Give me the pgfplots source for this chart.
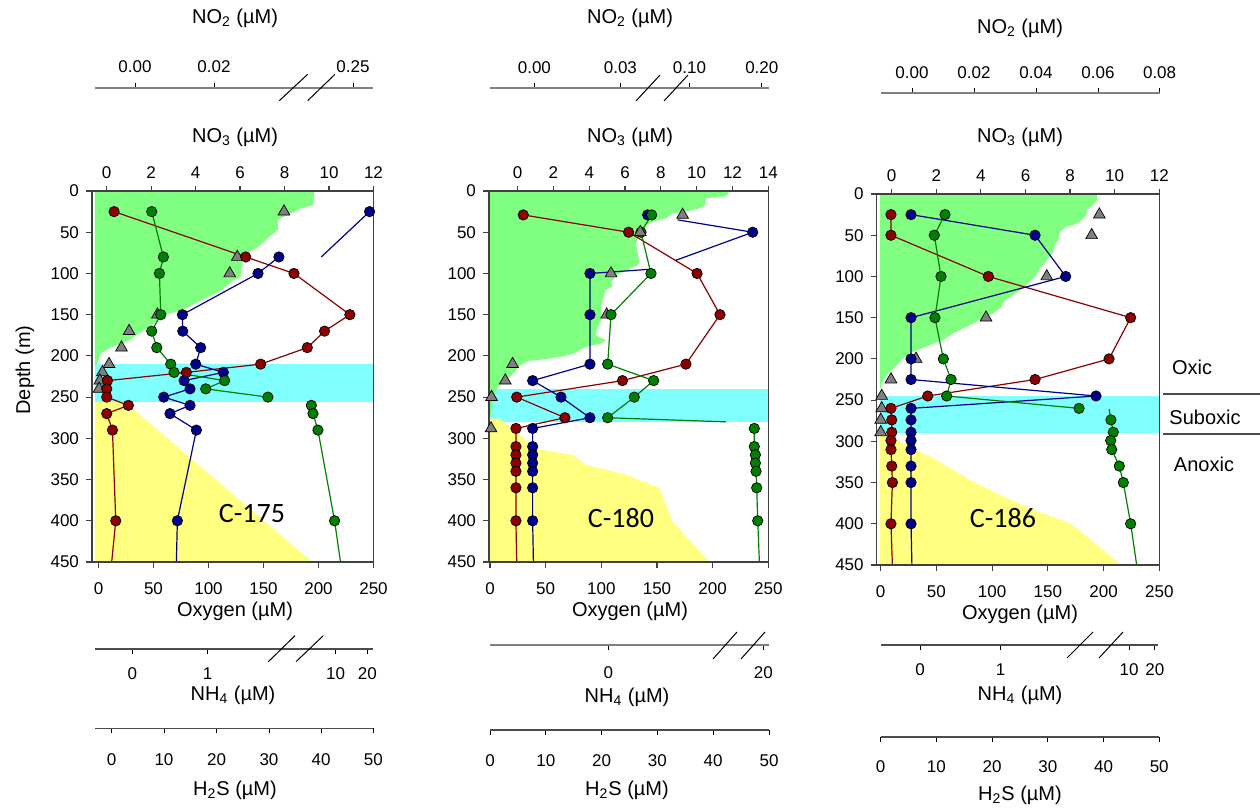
\documentclass[border=0pt]{standalone}
\usepackage{fontspec}
\setmainfont{Liberation Sans}
\newfontfamily\calib{Carlito}
\usepackage{pgfplots}
\pgfplotsset{compat=1.18}
\definecolor{dred}{HTML}{8B0000}
\definecolor{dblue}{HTML}{00008B}
\definecolor{dgreen}{HTML}{008000}
\definecolor{tgray}{HTML}{808080}
\definecolor{gfill}{HTML}{80FF80}
\definecolor{cfill}{HTML}{80FFFF}
\definecolor{yfill}{HTML}{FFFF80}
\newcommand{\tk}{\fontsize{8.5}{10}\selectfont}
\newcommand{\ttl}{\fontsize{10}{12}\selectfont}
\pgfplotsset{
  every axis/.append style={/pgf/number format/assume math mode=true,/pgf/number format/1000 sep={},tick label style={font=\tk}},
  main/.style={anchor=south west, scale only axis, ymin=0, ymax=450, y dir=reverse,
    xtick={0,50,...,250}, ytick={0,50,...,450}, xtick pos=left, ytick pos=left,
    tick align=outside, major tick length=3pt, axis on top,
    axis line style={-,black!75,line width=0.7pt}, major tick style={black!75,line width=0.6pt},
    xticklabel style={yshift=-4pt}},
  topn/.style={anchor=south west, scale only axis, ymin=0, ymax=1, axis y line=none, axis x line=top,
    tick align=outside, major tick length=2.5pt, xtick={0,2,...,14},
    axis line style={-,black!75,line width=0.7pt}, major tick style={black!75,line width=0.6pt}},
  decot/.style={anchor=south west, scale only axis, axis y line=none, axis x line=top, clip=false,
    tick align=outside, major tick length=2.5pt, axis line style={-,tgray,line width=1pt},
    major tick style={black,line width=0.5pt}, xticklabel style={yshift=1.3pt}},
  decob/.style={anchor=south west, scale only axis, axis y line=none, axis x line=bottom, clip=false,
    tick align=outside, major tick length=2.5pt, axis line style={-,black!70,line width=0.8pt},
    major tick style={black,line width=0.5pt}, xticklabel style={yshift=-3.5pt}},
  rs/.style={color=dred, line width=0.6pt, mark=*, mark size=2.6pt, mark options={fill=dred,draw=black,line width=0.35pt,solid}},
  bs/.style={color=dblue, line width=0.6pt, mark=*, mark size=2.6pt, mark options={fill=dblue,draw=black,line width=0.35pt,solid}},
  gs/.style={color=dgreen, line width=0.6pt, mark=*, mark size=2.6pt, mark options={fill=dgreen,draw=black,line width=0.35pt,solid}},
  rl/.style={color=dred, line width=0.6pt, no marks},
  bl/.style={color=dblue, line width=0.6pt, no marks},
  gl/.style={color=dgreen, line width=0.6pt, no marks},
  tri/.style={only marks, mark=triangle*, mark size=3.4pt, mark options={fill=tgray,draw=black,line width=0.35pt}},
}
\begin{document}
\begin{tikzpicture}
\path[use as bounding box] (0,0) rectangle (630pt,405pt);

% ================= Panel 1 =================
\begin{axis}[main, at={(46pt,124pt)}, width=140.75pt, height=185.5pt, xmin=-5.9, xmax=250]
\addplot[fill=cfill, draw=none] coordinates {(-3.2,210) (250,210) (250,256) (-3.2,256)} -- cycle;
\addplot[fill=gfill, draw=none] coordinates {(-3.2,0) (196,0) (195.3,17) (184,21) (163,35) (163,47) (150,62) (145,68) (136.5,74) (129,80) (131,88) (129,105) (123,108) (111,121) (93,133) (75,145) (63,149) (54,157) (41,169) (27,182) (11,190) (2,197) (0,206) (-2,212) (-3.2,212)} -- cycle;
\addplot[fill=yfill, draw=none] coordinates {(-3.2,256) (24,256) (194.4,450) (-3.2,450)} -- cycle;
\addplot[tri] coordinates {(168.6,25) (126.2,80) (119.3,100) (53.6,150) (27.8,170) (20.9,190) (9.6,210) (3.6,220) (1.2,230) (0.5,240)};
\addplot[rl] coordinates {(15.7,400) (12,450)};
\addplot[rs] coordinates {(14.2,25) (133.8,80) (177.7,100) (228.5,150) (205.5,170) (189.8,190) (147.4,210) (79.9,220) (8.2,230) (7.5,240) (7.5,250) (27.2,260) (7.5,270) (12.7,290) (15.7,400)};
\addplot[bl] coordinates {(246.4,25) (202.5,80)};
\addplot[bs, only marks] coordinates {(246.4,25)};
\addplot[bl] coordinates {(71.7,400) (70.8,450)};
\addplot[bs] coordinates {(164,80) (145,100) (76.3,150) (76.6,170) (92.9,190) (88.4,210) (113.5,220) (77.8,230) (83.2,240) (59.3,250) (83.2,260) (65,270) (89,290) (71.7,400)};
\addplot[gs] coordinates {(48.4,25) (59,80) (55.4,100) (56.6,150) (48.4,170) (53,190) (65.7,210) (68.7,220) (114.7,230) (97.5,240) (154,250)};
\addplot[gl] coordinates {(214.6,400) (220,450)};
\addplot[gs] coordinates {(193.5,260) (195,270) (199.5,290) (214.6,400)};
\end{axis}
\begin{axis}[topn, at={(46pt,124pt)}, width=140.75pt, height=185.5pt, xmin=-0.66, xmax=12]
\end{axis}
\begin{axis}[decot, at={(47.5pt,354.5pt)}, width=139pt, height=6.65pt, xmin=95, xmax=373, ymin=709, ymax=722.3,
  xtick={135,214,353}, xticklabels={0.00,0.02,0.25}]
\draw[black, line width=0.5pt] (axis cs:279.3,709.3) -- (axis cs:307.7,735.7);
\draw[black, line width=0.5pt] (axis cs:307.7,709.3) -- (axis cs:335,735.7);
\end{axis}
\begin{axis}[decob, at={(47.5pt,80.5pt)}, width=139pt, height=5pt, xmin=95, xmax=373, ymin=161, ymax=171,
  xtick={132.3,207.7,335.7,367.3}, xticklabels={0,1,10,20}]
\draw[black, line width=0.5pt] (axis cs:268.3,148.3) -- (axis cs:295,174.3);
\draw[black, line width=0.5pt] (axis cs:296,148.3) -- (axis cs:323.3,174.3);
\end{axis}
\begin{axis}[decob, at={(47.5pt,40.85pt)}, width=139.15pt, height=5pt, xmin=95, xmax=373.3, ymin=81.7, ymax=91.7,
  xtick={111.7,164,216.7,269,321,373.3}, xticklabels={0,10,20,30,40,50}, xticklabel style={yshift=-3pt}]
\end{axis}

% ================= Panel 2 =================
\begin{axis}[main, at={(244.5pt,124pt)}, width=139.65pt, height=185.5pt, xmin=-0.9, xmax=250]
\addplot[fill=cfill, draw=none] coordinates {(-0.3,240.5) (250,240.5) (250,280) (-0.3,280)} -- cycle;
\addplot[fill=gfill, draw=none] coordinates {(-0.3,0) (215,0) (213.4,4.6) (210.5,6.7) (194,8.7) (193.4,17) (188,21) (176,25) (164,27) (158,33) (152,35) (143,39) (135.6,45) (134,52) (131,64) (132.6,74) (134,86) (132.6,90) (128,93) (123.6,96) (116,100) (113,104) (108.7,110) (110,116) (104,120) (102.7,126) (101,133) (99.7,143) (99.7,157) (96.7,165) (95,175) (104,181) (99.7,185) (86,189) (77,196) (68,200) (50,204) (35,206) (26,212) (22,220) (17,226) (11,232) (7,238) (4,246) (2.4,259) (1,271) (0,277) (-0.3,277)} -- cycle;
\addplot[fill=yfill, draw=none] coordinates {(-0.3,276) (8.4,276) (26,295) (38,312) (74,320) (86,332) (122,344) (152,360) (164,401) (197,450) (-0.3,450)} -- cycle;
\addplot[tri] coordinates {(173,29) (108.7,100) (104.8,150) (20.3,210) (13.7,230) (1.4,250) (0.9,288)};
\addplot[rl] coordinates {(23.3,400) (24,450)};
\addplot[rs] coordinates {(29.9,29) (124.5,50) (186,100) (206.6,150) (176,210) (119,230) (24,250) (67.3,275) (23.3,288) (23.3,310) (23.3,320) (23.3,330) (23.3,340) (23.3,360) (23.3,400)};
\addplot[bl] coordinates {(168.5,35) (236,50) (167,84)};
\addplot[bs, only marks] coordinates {(236,50) (141.6,29)};
\addplot[bl] coordinates {(143,95) (89.8,100)};
\addplot[bl] coordinates {(38.3,400) (39,450)};
\addplot[bs] coordinates {(89.8,100) (89.8,150) (89.8,210) (38.3,230) (63.8,250) (89.8,275) (38.3,288) (38.3,310) (38.3,320) (38.3,330) (38.3,340) (38.3,360) (38.3,400)};
\addplot[gl] coordinates {(105.7,275) (212,280)};
\addplot[gs] coordinates {(145.2,29) (135.6,50) (144.6,100) (108.7,150) (105.7,210) (147,230) (129.6,250) (105.7,275)};
\addplot[gl] coordinates {(240.5,400) (242,450)};
\addplot[gs] coordinates {(237.4,288) (237.4,310) (238.4,320) (238.4,330) (239,340) (239.6,360) (240.5,400)};
\addplot[tri] coordinates {(135,50)};
\end{axis}
\begin{axis}[topn, at={(244.5pt,124pt)}, width=139.65pt, height=185.5pt, xmin=-1.6, xmax=14]
\end{axis}
\begin{axis}[decot, at={(245pt,354.5pt)}, width=139.5pt, height=6.5pt, xmin=490, xmax=769, ymin=709, ymax=722,
  xtick={534.4,620.4,689.5,761.8}, xticklabels={0.00,0.03,0.10,0.20}]
\draw[black, line width=0.5pt] (axis cs:636,709) -- (axis cs:660,735);
\draw[black, line width=0.5pt] (axis cs:664,709) -- (axis cs:688,735);
\end{axis}
\begin{axis}[decob, at={(245pt,82.5pt)}, width=139.5pt, height=5pt, xmin=490, xmax=769, ymin=165, ymax=175,
  xtick={608.3,763.4}, xticklabels={0,20}, axis line style={-,tgray,line width=1pt}, xticklabel style={yshift=-1.5pt}]
\draw[black, line width=0.5pt] (axis cs:713,151) -- (axis cs:737,178);
\draw[black, line width=0.5pt] (axis cs:741,151) -- (axis cs:765,178);
\end{axis}
\begin{axis}[decob, at={(245pt,40pt)}, width=139.5pt, height=5pt, xmin=490, xmax=769, ymin=80, ymax=90,
  xtick={490,545.8,601.6,657.4,713.2,769}, xticklabels={0,10,20,30,40,50}, xticklabel style={yshift=-3pt}]
\end{axis}

% ================= Panel 3 =================
\begin{axis}[main, at={(438.35pt,122.5pt)}, width=141.3pt, height=185.5pt, xmin=-3.6, xmax=250]
\addplot[fill=cfill, draw=none] coordinates {(-0.6,245.4) (250,245.4) (250,290) (-0.6,290)} -- cycle;
\addplot[fill=gfill, draw=none] coordinates {(-0.6,0) (194,0) (194,7.3) (190.6,13.3) (184.7,19.4) (184.7,25.5) (178.7,33.6) (172.7,37.6) (166.8,39.6) (160.8,45.7) (159.3,55.8) (156.3,61.9) (154.8,70) (150.3,78) (145.8,86) (142.8,90) (139.9,98) (135.4,104) (131,110) (125,116.5) (119,122.5) (111.5,128.6) (108.5,136.7) (101,144.7) (89,152.8) (77,161) (65,169) (56,177) (41,185) (26,193) (19,201) (13,209.5) (8,215.5) (4,221.6) (1,229.7) (0,235.7) (-0.6,236)} -- cycle;
\addplot[fill=yfill, draw=none] coordinates {(-0.6,291) (8,293) (26,306.5) (50,322.6) (80,347) (110,367) (137,383) (170,399.5) (190.6,421.7) (216,450) (-0.6,450)} -- cycle;
\addplot[tri] coordinates {(196.2,25) (189.3,50) (149,100) (94.5,150) (31.7,200) (9.2,225) (0.9,245) (0.9,260) (0,274) (0,289)};
\addplot[rl] coordinates {(9.2,400) (10.5,450)};
\addplot[rs] coordinates {(9.2,25) (9.2,50) (96.6,100) (224.3,150) (204.9,200) (138.5,225) (42.2,245) (9.2,260) (9.9,274) (9.9,289) (9.2,299) (9.2,310) (9.9,330) (10.5,350) (9.2,400)};
\addplot[bl] coordinates {(27.2,400) (28,450)};
\addplot[bs] coordinates {(27.2,25) (138.5,50) (166,100) (27.2,150) (27.2,200) (27.2,225) (193.2,245) (27.2,260) (27.2,274) (27.2,289) (27.2,299) (27.2,310) (27.2,330) (27.2,350) (27.2,400)};
\addplot[gs] coordinates {(57.7,25) (48.1,50) (54.1,100) (48.7,150) (56.2,200) (63.1,225) (59.2,245) (178,260)};
\addplot[gl] coordinates {(205,261) (206.6,274)};
\addplot[gl] coordinates {(224.3,400) (229.7,450)};
\addplot[gs] coordinates {(206.6,274) (208.7,289) (206.4,299) (207.3,310) (214.1,330) (217.7,350) (224.3,400)};
\end{axis}
\begin{axis}[topn, at={(438.35pt,122.5pt)}, width=141.3pt, height=185.5pt, xmin=-0.67, xmax=12]
\end{axis}
\begin{axis}[decot, at={(440.5pt,352pt)}, width=139.3pt, height=6.5pt, xmin=881, xmax=1159.6, ymin=704, ymax=717,
  xtick={912,974,1036,1098,1159.6}, xticklabels={0.00,0.02,0.04,0.06,0.08}]
\end{axis}
\begin{axis}[decob, at={(440.5pt,82.5pt)}, width=138.5pt, height=5pt, xmin=881, xmax=1158, ymin=165, ymax=175,
  xtick={920,1000.5,1129,1154.8}, xticklabels={0,1,10,20}]
\draw[black, line width=0.5pt] (axis cs:1067,152) -- (axis cs:1093,178);
\draw[black, line width=0.5pt] (axis cs:1099,152) -- (axis cs:1123,178);
\end{axis}
\begin{axis}[decob, at={(440.35pt,36.5pt)}, width=139.25pt, height=5pt, xmin=880.7, xmax=1159.2, ymin=73, ymax=83,
  xtick={880.7,936.4,992.1,1047.8,1103.5,1159.2}, xticklabels={0,10,20,30,40,50}, xticklabel style={yshift=-2.5pt}]
\end{axis}

% ================= Text =================
\begin{scope}[x=0.5pt, y=-0.5pt, yshift=405pt, font=\ttl]
\node at (235,18) {NO\textsubscript{2} (µM)};
\node at (630,18) {NO\textsubscript{2} (µM)};
\node at (1020,28) {NO\textsubscript{2} (µM)};
\node at (235,137) {NO\textsubscript{3} (µM)};
\node at (630,137) {NO\textsubscript{3} (µM)};
\node at (1020,137) {NO\textsubscript{3} (µM)};
\node at (235,611) {Oxygen (µM)};
\node at (630,611) {Oxygen (µM)};
\node at (1020,614) {Oxygen (µM)};
\node at (233,695) {NH\textsubscript{4} (µM)};
\node at (627,697) {NH\textsubscript{4} (µM)};
\node at (1020,695) {NH\textsubscript{4} (µM)};
\node at (235,790) {H\textsubscript{2}S (µM)};
\node at (627,790) {H\textsubscript{2}S (µM)};
\node at (1020,795) {H\textsubscript{2}S (µM)};
\node[rotate=90] at (25,370) {Depth (m)};
\node[font=\calib\fontsize{14}{16}\selectfont] at (252,514) {C-175};
\node[font=\calib\fontsize{14}{16}\selectfont] at (621,518) {C-180};
\node[font=\calib\fontsize{14}{16}\selectfont] at (1003,518) {C-186};
\node at (1192,367) {Oxic};
\node at (1205,417) {Suboxic};
\node at (1204,464) {Anoxic};
\draw[black!70, line width=0.6pt] (1163,394) -- (1260,394);
\draw[black!70, line width=0.6pt] (1163,434) -- (1260,434);
\end{scope}
\end{tikzpicture}
\end{document}
